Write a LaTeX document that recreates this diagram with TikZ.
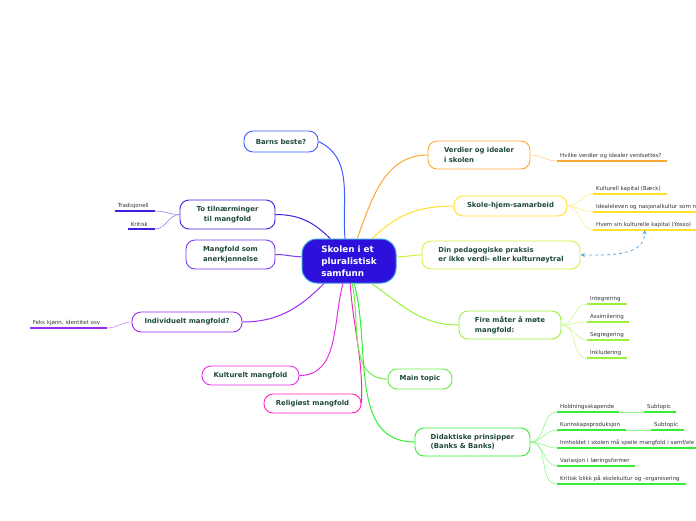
\documentclass[tikz,border=0pt]{standalone}
\usepackage{fontspec}
\setmainfont{DejaVu Sans}
\usetikzlibrary{arrows.meta}

\definecolor{txt}{HTML}{1F4A3C}
\definecolor{subtxt}{HTML}{333333}
\definecolor{cCore}{HTML}{2E10DD}
\definecolor{cRim}{HTML}{3C9ADE}
\definecolor{cBlue}{HTML}{3D5CFF}
\definecolor{cIndigo}{HTML}{3A22E0}
\definecolor{cViolet}{HTML}{7A3BEE}
\definecolor{cPurple}{HTML}{9B2BEE}
\definecolor{cMagenta}{HTML}{E830E8}
\definecolor{cPink}{HTML}{FF22BB}
\definecolor{cOrange}{HTML}{FFA733}
\definecolor{cYellow}{HTML}{FFE02A}
\definecolor{cChart}{HTML}{D8F03A}
\definecolor{cLime}{HTML}{9CF03A}
\definecolor{cGreen}{HTML}{66EE44}
\definecolor{cGreenB}{HTML}{33EE33}
\definecolor{cDash}{HTML}{5AA8EE}

\begin{document}
\begin{tikzpicture}[x=1pt,y=1pt,
  topic/.style={draw=#1,line width=0.9pt,rounded corners=9pt,fill=white,
                text=txt,align=left,inner sep=2pt,
                font=\fontsize{6.9}{9.5}\selectfont\bfseries},
  central/.style={draw=cRim,fill=cCore,line width=1pt,rounded corners=15pt,
                  text=white,align=left,minimum width=94pt,minimum height=44pt,
                  font=\fontsize{8.8}{12}\selectfont\bfseries},
  sub/.style={anchor=south west,align=left,text=subtxt,inner xsep=3pt,
              inner ysep=2pt,font=\fontsize{5.5}{6.5}\selectfont},
  subl/.style={sub,anchor=south east},
  uline/.style={draw=#1,line width=1.4pt},
  branch/.style={draw=#1,line width=1pt},
  twig/.style={draw=#1!55,line width=0.6pt},
  arr/.style={{Stealth[length=4.5pt,width=4pt]}-{Stealth[length=4.5pt,width=4pt]},
              draw=cDash,line width=0.8pt,dashed}]

  \useasboundingbox (0,0) rectangle (696,-520);

  % centre
  \node[central] (c) at (349,-261) {Skolen i et\\pluralistisk\\samfunn};

  % left side
  \node[topic=cBlue,minimum width=74pt,minimum height=21pt] (bb) at (281,-141.5) {Barns beste?};
  \node[topic=cIndigo,align=center,minimum width=95pt,minimum height=29pt] (tt) at (227.5,-214.5)
       {To tilnærminger\\til mangfold};
  \node[topic=cViolet,minimum width=89pt,minimum height=29pt] (ma) at (230.5,-254.5)
       {Mangfold som\\anerkjennelse};
  \node[topic=cPurple,minimum width=110pt,minimum height=20pt] (ind) at (187,-322) {Individuelt mangfold?};
  \node[topic=cMagenta,minimum width=97pt,minimum height=19pt] (kul) at (250.5,-375.5) {Kulturelt mangfold};
  \node[topic=cPink,minimum width=97pt,minimum height=19pt] (rel) at (312.5,-403.5) {Religiøst mangfold};

  % right side
  \node[topic=cOrange,minimum width=102pt,minimum height=28pt] (vi) at (479,-155)
       {Verdier og idealer\\i skolen};
  \node[topic=cYellow,minimum width=113pt,minimum height=20pt] (sh) at (510.5,-206) {Skole-hjem-samarbeid};
  \node[topic=cChart,minimum width=158pt,minimum height=28pt] (din) at (501,-255)
       {Din pedagogiske praksis\\er ikke verdi- eller kulturnøytral};
  \node[topic=cLime,minimum width=102pt,minimum height=28pt] (fm) at (510,-325)
       {Fire måter å møte\\mangfold:};
  \node[topic=cGreen,minimum width=64pt,minimum height=20pt] (mt) at (420,-379) {Main topic};
  \node[topic=cGreenB,minimum width=115pt,minimum height=28pt] (dp) at (472.5,-442)
       {Didaktiske prinsipper\\(Banks \& Banks)};

  % branches from the centre
  \draw[branch=cBlue] (c.100) to[out=95,in=-25] (bb.east);
  \draw[branch=cIndigo] (c.130) to[out=135,in=0] (tt.east);
  \draw[branch=cViolet] (c.175) to[out=178,in=0] (ma.east);
  \draw[branch=cPurple] (c.222) to[out=225,in=0] (ind.east);
  \draw[branch=cMagenta] (c.255) to[out=255,in=0] (kul.east);
  \draw[branch=cPink] (c.273) to[out=-86,in=88] (rel.east);
  \draw[branch=cOrange] (c.70) to[out=70,in=180] (vi.west);
  \draw[branch=cYellow] (c.44) to[out=45,in=180] (sh.west);
  \draw[branch=cChart] (c.5) to[out=0,in=180] (din.west);
  \draw[branch=cLime] (c.315) to[out=-35,in=180] (fm.west);
  \draw[branch=cGreen] (c.278) to[out=-78,in=180] (mt.west);
  \draw[branch=cGreenB] (c.283) to[out=-75,in=180] (dp.west);

  % subtopics, left
  \node[subl,text width=34pt] (trad) at (155,-211) {Tradisjonell};
  \node[subl,text width=21pt] (krit) at (155,-229) {Kritisk};
  \node[subl,text width=71pt] (feks) at (107,-328) {Feks kjønn, identitet osv};
  \foreach \s in {trad,krit} {
    \draw[uline=cIndigo] (\s.south west) -- (\s.south east);
    \draw[twig=cIndigo] (tt.west) to[out=180,in=0] (\s.south east);
  }
  \draw[uline=cPurple] (feks.south west) -- (feks.south east);
  \draw[twig=cPurple] (ind.west) to[out=180,in=0] (feks.south east);

  % subtopics, right
  \node[sub,text width=104pt] (hv) at (557,-161) {Hvilke verdier og idealer verdsettes?};
  \draw[uline=cOrange] (hv.south west) -- (hv.south east);
  \draw[twig=cOrange] (vi.east) to[out=0,in=180] (hv.south west);

  \node[sub,text width=68pt] (kk) at (593,-194) {Kulturell kapital (Bæck)};
  \node[sub,text width=130pt] (ie) at (593,-212) {Idealeleven og nasjonalkultur som n};
  \node[sub,text width=97pt] (hk) at (593,-230) {Hvem sin kulturelle kapital (Yosso)};
  \foreach \s in {kk,ie,hk} {
    \draw[uline=cYellow] (\s.south west) -- (\s.south east);
    \draw[twig=cYellow] (sh.east) to[out=0,in=180] (\s.south west);
  }
  \draw[arr] (din.east) to[out=0,in=-90] (hk.south);

  \node[sub,text width=34pt] (ig) at (587,-304) {Integrering};
  \node[sub,text width=36pt] (as) at (587,-322) {Assimilering};
  \node[sub,text width=36pt] (sg) at (587,-340) {Segregering};
  \node[sub,text width=34pt] (ik) at (587,-358) {Inkludering};
  \foreach \s in {ig,as,sg,ik} {
    \draw[uline=cLime] (\s.south west) -- (\s.south east);
    \draw[twig=cLime] (fm.east) to[out=0,in=180] (\s.south west);
  }

  \node[sub,text width=56pt] (hs) at (557,-412) {Holdningsskapende};
  \node[sub,text width=26pt] (st1) at (644,-412) {Subtopic};
  \node[sub,text width=63pt] (kp) at (557,-430) {Kunnskapsproduksjon};
  \node[sub,text width=27pt] (st2) at (651,-430) {Subtopic};
  \node[sub,text width=170pt] (ih) at (557,-448) {Innholdet i skolen må speile mangfold i samf/ele};
  \node[sub,text width=72pt] (vl) at (557,-466) {Variasjon i læringsformer};
  \node[sub,text width=123pt] (kb) at (557,-484) {Kritisk blikk på skolekultur og -organisering};
  \foreach \s in {hs,kp,ih,vl,kb,st1,st2}
    \draw[uline=cGreenB] (\s.south west) -- (\s.south east);
  \foreach \s in {hs,kp,ih,vl,kb}
    \draw[twig=cGreenB] (dp.east) to[out=0,in=180] (\s.south west);
  \draw[twig=cGreenB] (hs.south east) -- (st1.south west);
  \draw[twig=cGreenB] (kp.south east) -- (st2.south west);
\end{tikzpicture}
\end{document}
